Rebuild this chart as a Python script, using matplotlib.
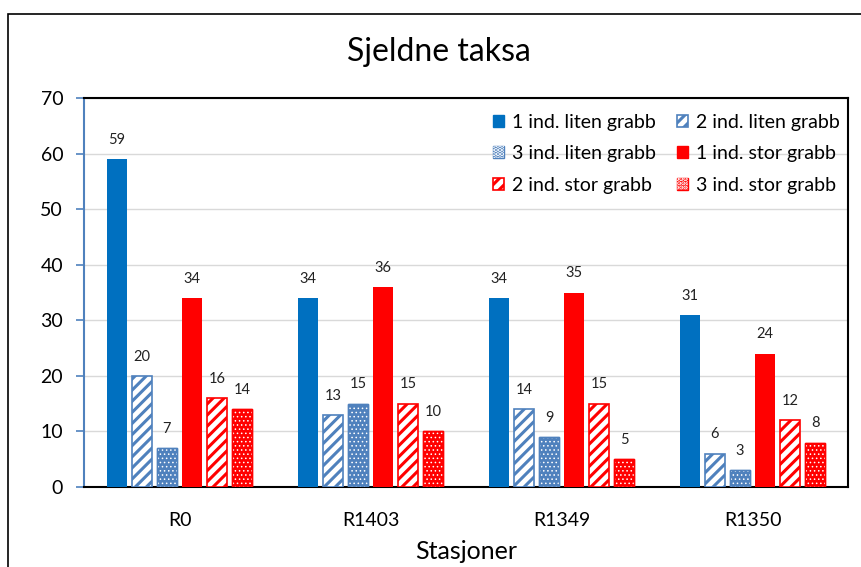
import matplotlib.pyplot as plt
import numpy as np
from matplotlib.patches import Rectangle, Patch
from matplotlib.legend_handler import HandlerTuple

plt.rcParams['font.family'] = ['Lato', 'DejaVu Sans']
plt.rcParams['hatch.linewidth'] = 2.2

# Data
stations = ["R0", "R1403", "R1349", "R1350"]
series_names = ["1 ind. liten grabb", "2 ind. liten grabb", "3 ind. liten grabb",
                "1 ind. stor grabb", "2 ind. stor grabb", "3 ind. stor grabb"]
liten_1 = [59, 34, 34, 31]
liten_2 = [20, 13, 14, 6]
liten_3 = [7, 15, 9, 3]
stor_1 = [34, 36, 35, 24]
stor_2 = [16, 15, 15, 12]
stor_3 = [14, 10, 5, 8]
all_series = [liten_1, liten_2, liten_3, stor_1, stor_2, stor_3]

blue = "#0070C0"
blue_light = "#4F81BD"
red = "#FF0000"
colors = [blue, blue_light, blue_light, red, red, red]
styles = ["solid", "stripe", "dots", "solid", "stripe", "dots"]

fig = plt.figure(figsize=(8.61, 5.67), dpi=100)
ax = fig.add_axes([84 / 861, 1 - 487 / 567, (848 - 84) / 861, (487 - 98) / 567])

# outer chart frame
fig.patches.append(Rectangle((8 / 861, -0.1), 1.2, 1 - 14 / 567 + 0.1, transform=fig.transFigure,
                             fill=False, edgecolor="black", linewidth=1.2))

x = np.arange(len(stations))
step = 0.131
width = 0.105
handles = []
for i, (vals, col, st) in enumerate(zip(all_series, colors, styles)):
    pos = x + (i - 2.5) * step
    if st == "solid":
        ax.bar(pos, vals, width, color=col, zorder=3)
        h = Patch(facecolor=col, edgecolor=col)
    elif st == "stripe":
        ax.bar(pos, vals, width, facecolor="white", edgecolor=col, hatch="///",
               linewidth=1.2, zorder=3)
        h = Patch(facecolor="white", edgecolor=col, hatch="///", linewidth=1.2)
    else:
        ax.bar(pos, vals, width, facecolor=col, edgecolor=col, linewidth=1.0, zorder=3)
        with plt.rc_context({'hatch.linewidth': 0.6}):
            ax.bar(pos, vals, width, facecolor="none", edgecolor="white", hatch="....",
                   linewidth=0, zorder=4)
            ax.bar(pos, vals, width, facecolor="none", edgecolor=col, linewidth=1.0, zorder=5)
        h = (Patch(facecolor=col, edgecolor=col),
             Patch(facecolor="none", edgecolor="white", hatch="....", linewidth=0))
    handles.append(h)
    for p, v in zip(pos, vals):
        ax.text(p, v + 2.2, str(v), ha="center", va="bottom", fontsize=10.5, color="#222222")

ax.set_ylim(0, 70)
ax.set_xlim(-0.5, 3.5)
ax.set_yticks(range(0, 71, 10))
ax.set_xticks(x)
ax.set_xticklabels(stations)
ax.tick_params(axis="x", length=0, labelsize=14, pad=18)
ax.tick_params(axis="y", length=6, color=blue_light, width=1.2, labelsize=14, pad=9)
ax.yaxis.grid(True, color="#D9D9D9", linewidth=1.0, zorder=0)
ax.set_axisbelow(True)
for s in ["top", "right", "bottom"]:
    ax.spines[s].set_color("black")
    ax.spines[s].set_linewidth(1.5)
ax.spines["left"].set_color(blue_light)
ax.spines["left"].set_linewidth(1.5)

ax.set_xlabel("Stasjoner", fontsize=18, labelpad=8)
fig.text(0.51, 0.908, "Sjeldne taksa", ha="center", va="center", fontsize=23)

order = [0, 2, 4, 1, 3, 5]
ax.legend([handles[k] for k in order], [series_names[k] for k in order], ncol=2,
          loc="upper right", frameon=False, fontsize=14, handlelength=0.55, handleheight=0.55,
          handletextpad=0.4, columnspacing=1.1, labelspacing=0.75,
          bbox_to_anchor=(1.012, 1.005), handler_map={tuple: HandlerTuple(ndivide=1, pad=0)})

fig.savefig("out.png", dpi=100)
